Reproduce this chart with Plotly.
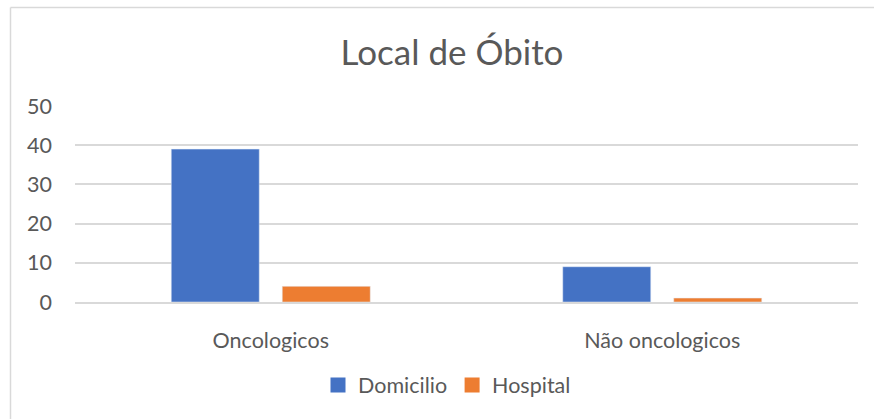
import plotly.graph_objects as go

categories = ["Oncologicos", "Não oncologicos"]
domicilio = [39, 9]
hospital = [4, 1]
y_ticks = [0, 10, 20, 30, 40, 50]
series_names = ["Domicilio", "Hospital"]
series_colors = ["#4472C4", "#ED7D31"]

FONT = "Lato"
TXT = "#595959"
GRID = "#d9d9d9"

fig = go.Figure()
for name, vals, col in zip(series_names, [domicilio, hospital], series_colors):
    fig.add_trace(go.Bar(name=name, x=categories, y=vals, marker_color=col,
                         showlegend=False, legendgroup=name))
for name, col in zip(series_names, series_colors):
    fig.add_trace(go.Scatter(name=name, x=[categories[0]], y=[None], mode="markers",
                             marker=dict(symbol="square", size=15, color=col),
                             legendgroup=name, showlegend=True, hoverinfo="skip"))

W, H = 874, 419
L, R, T, B = 75, 16, 106, 117
pw, ph = W - L - R, H - T - B

def px(X):
    return (X - L) / pw

def py(Y):
    return (H - B - Y) / ph

fig.update_layout(
    width=W, height=H,
    margin=dict(l=L, r=R, t=T, b=B),
    paper_bgcolor="white", plot_bgcolor="white",
    barmode="group", bargap=0.433, bargroupgap=0.207,
    font=dict(family=FONT, color=TXT),
    title=dict(text="Local de Óbito", x=px(452), xref="paper", xanchor="center",
               y=1 - 53 / H, yanchor="middle", font=dict(size=35, color=TXT, family=FONT)),
    showlegend=True,
    legend=dict(orientation="h", x=px(447), xanchor="center", y=py(385), yanchor="middle",
                font=dict(size=21.5, color=TXT, family=FONT), itemwidth=30,
                traceorder="normal"),
    xaxis=dict(showgrid=False, showline=True, linecolor=GRID, linewidth=1.5,
               tickfont=dict(size=21.5, color=TXT), ticks="", ticklabelstandoff=18),
    yaxis=dict(range=[0, 50], tickvals=y_ticks, showgrid=True, gridcolor=GRID, gridwidth=1.5,
               zeroline=False, showline=False, tickfont=dict(size=21.5, color=TXT), ticks="",
               ticklabelstandoff=22),
    shapes=[
        dict(type="line", xref="paper", yref="paper", x0=px(10.5), x1=px(W + 5), y0=py(7.5), y1=py(7.5),
             line=dict(color=GRID, width=1.5)),
        dict(type="line", xref="paper", yref="paper", x0=px(10.5), x1=px(10.5), y0=py(7.5), y1=py(H + 5),
             line=dict(color=GRID, width=1.5)),
    ],
)

fig.write_html("out.html", config={"displayModeBar": False},
               post_script="document.body.style.margin='0';")
